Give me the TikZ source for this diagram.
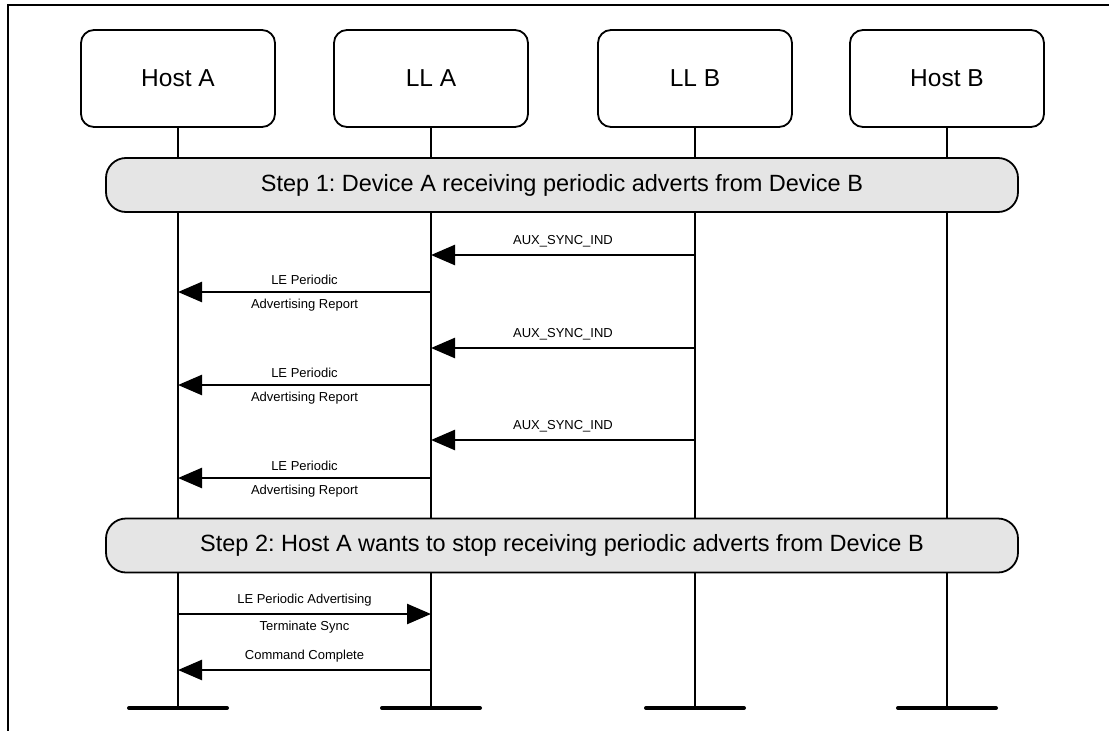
\documentclass[tikz,border=0pt]{standalone}
\usepackage{fontspec}
\setmainfont{Liberation Sans}
\usetikzlibrary{arrows.meta}
\frenchspacing

\begin{document}
\begin{tikzpicture}[x=1pt, y=-1pt, every node/.style={font=\fontsize{13}{15}\selectfont},
  actor/.style={draw, line width=1.8pt, rounded corners=13pt, minimum width=194pt, minimum height=97pt, font=\fontsize{24.5}{28}\selectfont},
  phase/.style={draw, line width=1.8pt, fill=black!10, rounded corners=20pt, minimum width=912pt, minimum height=54pt, font=\fontsize{23.5}{28}\selectfont},
  life/.style={line width=1.5pt},
  foot/.style={line width=4pt, line cap=round},
  msg/.style={line width=2.5pt, -{Triangle[length=24pt,width=20pt]}},
  up/.style={midway, above, inner sep=6.5pt},
  down/.style={midway, below, inner sep=6pt}]
  \useasboundingbox (0,0) rectangle (1109,731);
  \draw[line width=2pt] (8,731) -- (8,5) -- (1109,5);
  \node[actor] (HA) at (178,78.5) {Host A};
  \node[actor] (LA) at (431,78.5) {LL A};
  \node[actor] (LB) at (695,78.5) {LL B};
  \node[actor] (HB) at (947,78.5) {Host B};
  \coordinate (HAend) at (178,708); \coordinate (LAend) at (431,708);
  \coordinate (LBend) at (695,708); \coordinate (HBend) at (947,708);
  \draw[life] (HA) -- (HAend);
  \draw[life] (LA) -- (LAend);
  \draw[life] (LB) -- (LBend);
  \draw[life] (HB) -- (HBend);
  \draw[foot] ([xshift=-49pt]HAend) -- ([xshift=49pt]HAend);
  \draw[foot] ([xshift=-49pt]LAend) -- ([xshift=49pt]LAend);
  \draw[foot] ([xshift=-49pt]LBend) -- ([xshift=49pt]LBend);
  \draw[foot] ([xshift=-49pt]HBend) -- ([xshift=49pt]HBend);
  \node[phase] (S1) at (562,185) {Step 1: Device A receiving periodic adverts from Device B};
  \node[phase] (S2) at (562,545.5) {Step 2: Host A wants to stop receiving periodic adverts from Device B};
  \draw[msg] (LB |- 0,255) -- (LA |- 0,255) node[up] {AUX\_SYNC\_IND};
  \draw[msg] (LA |- 0,292) -- (HA |- 0,292) node[up] {LE Periodic} node[down] {Advertising Report};
  \draw[msg] (LB |- 0,348) -- (LA |- 0,348) node[up] {AUX\_SYNC\_IND};
  \draw[msg] (LA |- 0,385) -- (HA |- 0,385) node[up] {LE Periodic} node[down] {Advertising Report};
  \draw[msg] (LB |- 0,440) -- (LA |- 0,440) node[up] {AUX\_SYNC\_IND};
  \draw[msg] (LA |- 0,478) -- (HA |- 0,478) node[up] {LE Periodic} node[down] {Advertising Report};
  \draw[msg] (HA |- 0,614) -- (LA |- 0,614) node[up] {LE Periodic Advertising} node[down] {Terminate Sync};
  \draw[msg] (LA |- 0,670) -- (HA |- 0,670) node[up] {Command Complete};
\end{tikzpicture}
\end{document}
